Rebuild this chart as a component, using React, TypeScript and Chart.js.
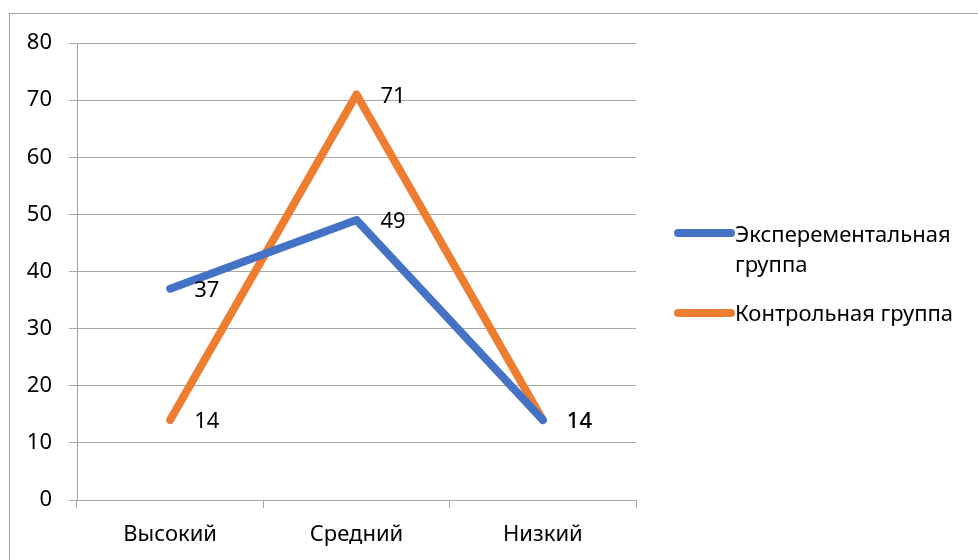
import React, { useEffect, useRef } from "react";
import { Chart, registerables } from "chart.js";

Chart.register(...registerables);

const categories = ["Высокий", "Средний", "Низкий"];
const seriesNames = ["Эксперементальная группа", "Контрольная группа"];
const legendLines = [["Эксперементальная", "группа"], ["Контрольная группа"]];
const experimental = [37, 49, 14];
const control = [14, 71, 14];
const yTicks = [0, 10, 20, 30, 40, 50, 60, 70, 80];

const BLUE = "#4472C4";
const ORANGE = "#ED7D31";
const GRID = "#a6a6a6";
const FONT = "'Noto Sans', sans-serif";
const FS = 22;
const LW = 8;

const extrasPlugin = {
  id: "extras",
  afterDraw(chart: any) {
    const ctx = chart.ctx;
    ctx.save();
    // outer frame
    ctx.strokeStyle = GRID;
    ctx.lineWidth = 1;
    ctx.strokeRect(9.5, 13.5, 1200, 800);
    // data labels
    ctx.fillStyle = "#000";
    ctx.font = `${FS}px ${FONT}`;
    ctx.textAlign = "left";
    ctx.textBaseline = "middle";
    chart.data.datasets.forEach((ds: any, i: number) => {
      const meta = chart.getDatasetMeta(i);
      meta.data.forEach((pt: any, j: number) => {
        ctx.fillText(String(ds.data[j]), pt.x + 24, pt.y + 2);
      });
    });
    // legend
    const items = [
      { color: BLUE, y: 233, lines: legendLines[0], base: 242 },
      { color: ORANGE, y: 313, lines: legendLines[1], base: 321 },
    ];
    ctx.textBaseline = "alphabetic";
    items.forEach((it) => {
      ctx.strokeStyle = it.color;
      ctx.lineWidth = LW;
      ctx.lineCap = "round";
      ctx.beginPath();
      ctx.moveTo(678, it.y);
      ctx.lineTo(731, it.y);
      ctx.stroke();
      it.lines.forEach((t, k) => {
        ctx.fillStyle = "#000";
        ctx.fillText(t, 735, it.base + k * 30);
      });
    });
    ctx.restore();
  },
};

export default function App() {
  const ref = useRef<HTMLCanvasElement>(null);
  useEffect(() => {
    const chart = new Chart(ref.current!, {
      type: "line",
      data: {
        labels: categories,
        datasets: [
          {
            label: seriesNames[0],
            data: experimental,
            borderColor: BLUE,
            backgroundColor: BLUE,
            borderWidth: LW,
            pointRadius: 0,
            borderCapStyle: "round",
            borderJoinStyle: "round",
            tension: 0,
          },
          {
            label: seriesNames[1],
            data: control,
            borderColor: ORANGE,
            backgroundColor: ORANGE,
            borderWidth: LW,
            pointRadius: 0,
            borderCapStyle: "round",
            borderJoinStyle: "round",
            tension: 0,
          },
        ],
      },
      options: {
        responsive: false,
        animation: false,
        layout: { padding: { left: 0, top: 43, right: 342, bottom: 0 } },
        plugins: { legend: { display: false }, tooltip: { enabled: false } },
        scales: {
          x: {
            type: "category",
            offset: true,
            grid: {
              offset: true,
              drawOnChartArea: false,
              drawTicks: true,
              tickLength: 8,
              color: GRID,
            },
            border: { color: GRID },
            ticks: { color: "#000", font: { family: FONT, size: FS }, padding: 14 },
            afterFit(scale: any) {
              scale.height = 60;
            },
          },
          y: {
            min: 0,
            max: 80,
            afterBuildTicks(scale: any) {
              scale.ticks = yTicks.map((v) => ({ value: v }));
            },
            grid: { color: GRID, tickLength: 8, drawTicks: true },
            border: { color: GRID },
            ticks: { color: "#000", font: { family: FONT, size: FS }, padding: 17 },
            afterFit(scale: any) {
              scale.width = 77;
            },
          },
        },
      },
      plugins: [extrasPlugin],
    });
    return () => chart.destroy();
  }, []);
  return (
    <div style={{ position: "absolute", left: 0, top: 0, width: 978, height: 560 }}>
      <canvas ref={ref} width={978} height={560} style={{ width: 978, height: 560 }} />
    </div>
  );
}
